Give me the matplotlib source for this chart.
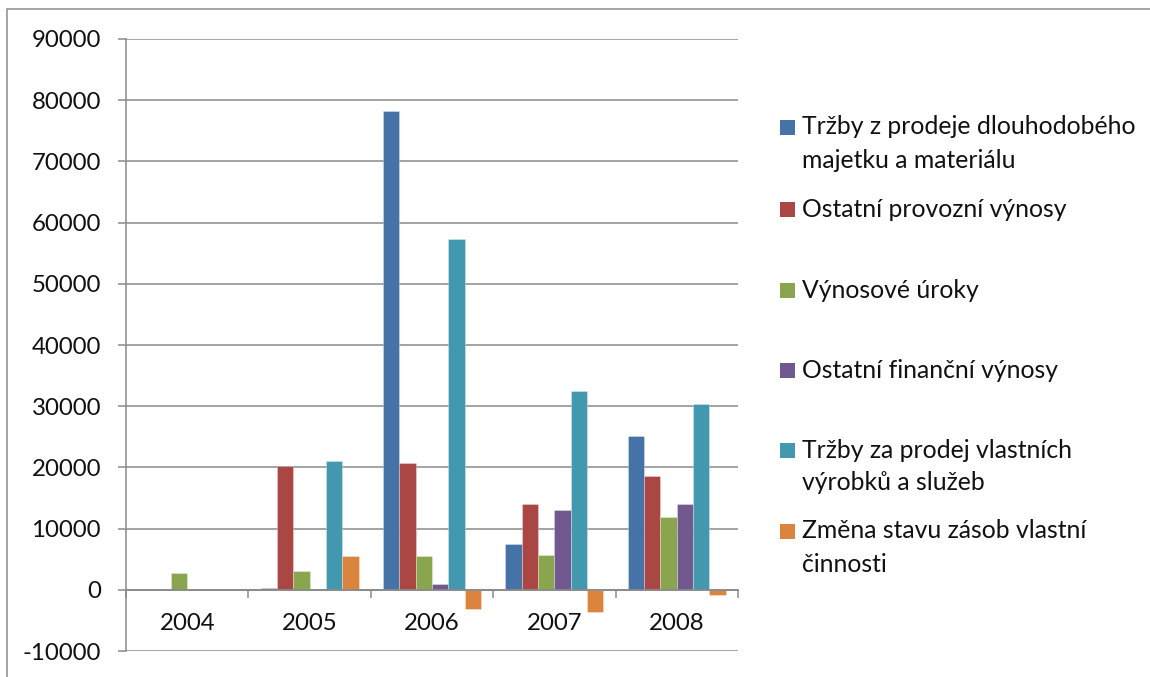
import matplotlib
matplotlib.use("Agg")
import matplotlib.pyplot as plt
from matplotlib.patches import Rectangle
import numpy as np

plt.rcParams['font.family'] = ['Lato', 'DejaVu Sans']

years = ["2004", "2005", "2006", "2007", "2008"]
series_names = [
    "Tržby z prodeje dlouhodobého\nmajetku a materiálu",
    "Ostatní provozní výnosy",
    "Výnosové úroky",
    "Ostatní finanční výnosy",
    "Tržby za prodej vlastních\nvýrobků a služeb",
    "Změna stavu zásob vlastní\nčinnosti",
]
trzby_majetek = [0, 250, 78300, 7450, 25100]
ostatni_provozni = [0, 20300, 20750, 14050, 18550]
vynosove_uroky = [2700, 3100, 5600, 5750, 11850]
ostatni_financni = [0, 0, 1000, 13100, 14050]
trzby_vyrobky = [0, 21050, 57400, 32450, 30300]
zmena_zasob = [0, 5500, -3150, -3600, -850]
y_ticks = list(range(-10000, 90001, 10000))

series = [trzby_majetek, ostatni_provozni, vynosove_uroky,
          ostatni_financni, trzby_vyrobky, zmena_zasob]
colors = ["#4572A7", "#AA4643", "#89A54E", "#71588F", "#4198AF", "#DB843D"]

W, H = 1150, 677
fig = plt.figure(figsize=(W / 100, H / 100), dpi=100)

# outer chart frame
fig.add_artist(Rectangle((7 / W, -0.1), 1.2, 1.1 - 9 / H, transform=fig.transFigure,
                         fill=False, edgecolor="#8c8c8c", linewidth=1.1))

ax = fig.add_axes([126 / W, (H - 651) / H, 612 / W, 612 / H])

grid_c = "#8a8a8a"
n = len(series)
bw = 1 / 7.5
x = np.arange(len(years))
for j, (vals, c) in enumerate(zip(series, colors)):
    ax.bar(x + (j - (n - 1) / 2) * bw, vals, width=bw, color=c,
           edgecolor=(1, 1, 1, 0.35), linewidth=0.6, zorder=3)

ax.set_xlim(-0.5, len(years) - 0.5)
ax.set_ylim(y_ticks[0], y_ticks[-1])
ax.set_yticks(y_ticks)
ax.set_yticklabels([str(v) for v in y_ticks])
ax.yaxis.grid(True, color=grid_c, linewidth=1.1, zorder=0)
ax.set_axisbelow(True)

for s in ("top", "right"):
    ax.spines[s].set_visible(False)
ax.spines["left"].set_color(grid_c)
ax.spines["left"].set_linewidth(1.1)
ax.spines["bottom"].set_position(("data", 0))
ax.spines["bottom"].set_color(grid_c)
ax.spines["bottom"].set_linewidth(1.3)
ax.spines["bottom"].set_zorder(4)

ax.set_xticks(x)
ax.set_xticklabels(years)
ax.set_xticks(np.arange(-0.5, len(years)), minor=True)
ax.tick_params(axis="x", which="major", length=0, pad=17, labelsize=17.3, labelcolor="#111111")
ax.tick_params(axis="x", which="minor", length=6, width=1.1, color=grid_c, direction="out")
ax.tick_params(axis="y", length=6, width=1.1, color=grid_c, pad=12, labelsize=17.3,
               labelcolor="#111111")

# legend
marker_y = [127, 209, 290, 370, 450, 531]
line_gap = 33
for name, c, yc in zip(series_names, colors, marker_y):
    fig.add_artist(Rectangle((780 / W, 1 - (yc + 7.5) / H), 15 / W, 15 / H,
                             transform=fig.transFigure, facecolor=c, edgecolor="none"))
    for k, line in enumerate(name.split("\n")):
        fig.text(802 / W, 1 - (yc + k * line_gap) / H, line, fontsize=17.8,
                 va="center", ha="left", color="#111111")

fig.savefig("out.png", dpi=100)
